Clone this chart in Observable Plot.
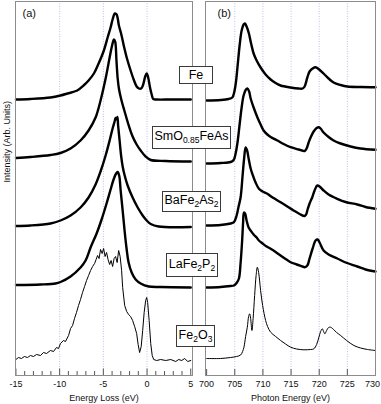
<!DOCTYPE html>
<html>
<head>
<meta charset="utf-8">
<script src="https://cdn.jsdelivr.net/npm/d3@7"></script>
<script src="https://cdn.jsdelivr.net/npm/@observablehq/plot@0.6"></script>
<style>
  html,body{margin:0;padding:0;background:#fff;}
  #chart{position:relative;width:381px;height:404px;overflow:hidden;font-family:"Liberation Sans",Arial,Helvetica,sans-serif;}
  #chart svg{position:absolute;top:0;}
  .lbl{position:absolute;box-sizing:border-box;border:1px solid #3a3a3a;background:#fff;color:#000;font-size:12.5px;line-height:1;display:flex;align-items:center;justify-content:center;white-space:nowrap;z-index:2;}
  .lbl span{display:block;margin-top:-2px;}
  .lbl sub{font-size:8.5px;vertical-align:baseline;position:relative;top:3px;line-height:0;}
</style>
</head>
<body>
<div id="chart"></div>
<script>
// ---------- data ----------
const names = ["Fe", "SmO0.85FeAs", "BaFe2As2", "LaFe2P2", "Fe2O3"];
// vertical offsets (arb. units) used to stack spectra
const lossOffsets = [27.6, 21.5, 14.9, 8.9, 1.6];
const photonOffsets = [27.5, 21.2, 15.0, 8.8, 1.7];

const lossTicks = [-15, -10, -5, 0, 5];
const lossGrid = [-10, -5, 0];
const photonTicks = [700, 705, 710, 715, 720, 725, 730];
const photonGrid = [705, 710, 715, 720, 725];

// (a) energy loss [eV, intensity]
const lossFe = [[-15,0],[-13.34,0.05],[-11.05,0.2],[-9.9,0.4],[-9.1,0.6],[-7.99,0.9],[-7.26,1.4],[-6.69,1.9],[-6.08,2.6],[-5.54,3.6],[-4.94,4.9],[-4.51,6.2],[-4.17,7.2],[-3.94,8.0],[-3.68,8.6],[-3.48,8.5],[-3.22,7.4],[-2.97,6.6],[-2.64,5.3],[-2.33,4.2],[-1.88,2.9],[-1.53,2.0],[-1.19,1.3],[-0.93,1.1],[-0.67,1.1],[-0.44,1.5],[-0.21,2.3],[-0.04,2.6],[0.13,2.2],[0.34,1.2],[0.53,0.5],[0.72,0.05],[1.1,0],[2.71,0],[5,0]];
const lossSmO = [[-15,0.25],[-13.34,0.35],[-11.05,0.55],[-9.9,0.75],[-8.75,1.2],[-7.61,2.0],[-6.69,3.0],[-5.89,4.3],[-5.32,6.0],[-4.74,8.2],[-4.28,10.3],[-4.0,11.5],[-3.79,12.1],[-3.65,11.9],[-3.5,10.0],[-3.36,8.2],[-3.2,7.1],[-2.95,6.1],[-2.6,5.0],[-2.2,3.8],[-1.7,2.5],[-1.19,1.6],[-0.73,1.0],[-0.16,0.4],[0.42,0.05],[2.13,-0.05],[5,-0.1]];
const lossBa = [[-15,0.05],[-13.34,0.1],[-11.05,0.3],[-9.9,0.6],[-8.75,1.1],[-7.61,1.9],[-6.69,2.9],[-5.89,4.2],[-5.32,5.5],[-4.74,7.1],[-4.28,8.6],[-3.94,9.8],[-3.71,10.5],[-3.6,10.85],[-3.48,10.7],[-3.39,10.95],[-3.31,10.1],[-3.14,8.6],[-2.97,7.1],[-2.79,6.0],[-2.56,5.1],[-2.22,4.1],[-1.65,2.9],[-1.07,1.9],[-0.5,1.1],[-0.04,0.6],[0.42,0.25],[1.33,0],[5,-0.05]];
const lossLa = [[-15,0.15],[-12.19,0.2],[-10.47,0.3],[-9.9,0.45],[-8.75,1.0],[-7.61,1.9],[-7.03,2.6],[-6.46,3.9],[-5.77,5.3],[-5.2,6.7],[-4.63,8.3],[-4.17,9.7],[-3.83,10.7],[-3.54,11.3],[-3.37,11.45],[-3.19,11.1],[-3.02,9.6],[-2.79,7.6],[-2.56,5.5],[-2.33,3.7],[-2.11,2.4],[-1.76,1.4],[-1.3,0.7],[-0.73,0.3],[0.19,0],[1.56,-0.05],[5,-0.1]];
const lossFe2O3 = [[-15,0],[-14.71,0.2],[-14.37,0.1],[-14.03,0.3],[-13.68,0.2],[-13.34,0.4],[-12.99,0.3],[-12.65,0.5],[-12.19,0.4],[-11.85,0.7],[-11.5,0.6],[-11.05,0.9],[-10.7,0.8],[-10.36,1.2],[-10.13,1.1],[-9.9,1.6],[-9.56,1.9],[-9.33,1.8],[-8.98,2.4],[-8.75,3.1],[-8.52,3.4],[-8.3,4.1],[-8.07,4.7],[-7.84,5.4],[-7.61,6.0],[-7.38,6.7],[-7.15,7.3],[-6.92,7.9],[-6.69,8.4],[-6.46,8.9],[-6.23,9.3],[-6.0,9.6],[-5.83,10.0],[-5.66,10.4],[-5.49,10.1],[-5.32,11.0],[-5.14,10.6],[-4.97,11.1],[-4.8,10.3],[-4.63,10.7],[-4.46,10.0],[-4.28,9.5],[-4.11,9.9],[-3.94,9.3],[-3.77,10.1],[-3.6,10.3],[-3.42,9.7],[-3.25,10.9],[-3.08,10.3],[-2.91,8.9],[-2.79,7.2],[-2.56,5.4],[-2.33,4.8],[-2.11,4.5],[-1.88,4.3],[-1.65,3.9],[-1.42,3.3],[-1.19,2.6],[-1.02,1.5],[-0.85,0.7],[-0.67,1.3],[-0.5,2.9],[-0.33,4.7],[-0.16,5.9],[-0.04,6.2],[0.07,5.7],[0.24,3.9],[0.42,1.6],[0.59,0.4],[0.76,0],[1.1,-0.1],[1.56,0],[2.13,-0.1],[2.71,0],[3.28,-0.2],[3.62,0],[3.97,-0.1],[4.31,0.1],[4.65,-0.2],[5,-0.1]];

// (b) photon energy [eV, intensity]
const photonFe = [[700,0],[702.49,0.05],[703.91,0.15],[704.56,0.3],[704.8,0.6],[705.15,1.6],[705.51,3.5],[705.86,5.5],[706.22,7.0],[706.57,7.6],[706.8,7.7],[707.1,7.4],[707.51,6.7],[707.9,5.7],[708.35,4.7],[708.88,4.0],[709.59,3.3],[710.48,2.6],[711.37,2.1],[712.26,1.75],[713.14,1.5],[714.92,1.3],[716.34,1.2],[717.05,1.2],[717.41,1.4],[717.89,2.3],[718.29,2.9],[718.83,3.2],[719.36,3.33],[719.89,3.15],[720.78,2.7],[721.67,2.2],[722.56,1.8],[723.8,1.55],[724.99,1.4],[727.35,1.35],[730,1.33]];
const photonSmO = [[700,0],[702.49,0.05],[704.26,0.15],[704.8,0.35],[705.15,1.0],[705.51,2.2],[705.86,3.9],[706.22,5.6],[706.57,6.8],[706.93,7.35],[707.23,7.5],[707.55,7.2],[707.82,6.5],[708.35,5.6],[709.01,4.63],[709.59,3.9],[710.12,3.3],[710.78,2.9],[711.37,2.65],[712.56,2.3],[713.68,1.95],[714.92,1.63],[716.34,1.4],[717.41,1.25],[717.76,1.5],[718.12,2.1],[718.47,2.6],[719.01,3.2],[719.54,3.55],[719.95,3.63],[720.25,3.5],[720.78,3.1],[721.67,2.65],[722.56,2.3],[723.8,2.0],[725.58,1.7],[727.35,1.5],[730,1.37]];
const photonBa = [[700,0],[702.49,0.05],[704.26,0.2],[704.85,0.33],[705.33,1.0],[705.68,1.9],[706.04,2.83],[706.39,5.0],[706.66,6.7],[706.93,7.8],[707.19,7.5],[707.46,6.7],[707.82,5.7],[708.12,5.17],[708.7,4.3],[709.29,3.67],[709.95,3.4],[710.78,3.17],[711.72,2.8],[713.14,2.33],[714.21,1.95],[715.45,1.5],[716.52,1.15],[717.41,0.95],[717.67,1.1],[717.94,1.6],[718.29,2.2],[718.77,2.83],[719.18,3.5],[719.66,4.0],[720.07,3.9],[720.78,3.5],[721.67,3.1],[723.21,2.67],[724.69,2.35],[726.77,2.1],[728.24,1.85],[730,1.67]];
const photonLa = [[700,0],[702.49,0.05],[704.26,0.15],[704.85,0.2],[705.33,0.45],[705.74,0.9],[706.04,2.5],[706.31,4.7],[706.48,6.5],[706.63,7.5],[706.84,7.4],[707.1,6.7],[707.46,6.0],[707.82,5.7],[708.35,5.3],[708.88,5.0],[709.29,4.7],[709.95,4.4],[710.66,4.1],[711.37,3.87],[712.26,3.55],[713.14,3.2],[714.03,2.85],[714.92,2.53],[715.99,2.3],[717.05,2.1],[717.41,2.03],[717.89,2.2],[718.29,2.9],[718.83,3.9],[719.36,4.7],[719.72,4.8],[720.07,4.5],[720.78,3.7],[721.67,3.3],[723.21,2.9],[724.69,2.5],[726.77,2.1],[728.24,1.8],[730,1.6]];
const photonFe2O3 = [[700,0],[702.49,0],[704.26,0.1],[705.33,0.2],[706.04,0.35],[706.39,0.7],[706.63,1.13],[706.93,2.2],[707.23,3.13],[707.46,4.2],[707.64,4.47],[707.82,4.0],[708.05,2.8],[708.26,4.0],[708.53,6.3],[708.79,8.3],[709.01,9.13],[709.24,8.6],[709.59,6.8],[709.95,5.3],[710.48,3.8],[710.83,3.2],[711.37,2.63],[712.26,2.2],[713.14,1.8],[714.03,1.45],[714.92,1.13],[715.99,0.95],[717.28,0.87],[718.47,0.9],[719.06,0.97],[719.54,1.4],[719.95,2.13],[720.25,2.7],[720.55,2.97],[720.78,2.7],[721.01,2.47],[721.31,2.8],[721.67,3.1],[722.02,3.13],[722.56,2.9],[723.09,2.6],[723.8,2.3],[724.87,1.8],[726.16,1.3],[727.35,1.05],[728.6,0.9],[730,0.8]];

// ---------- build ----------
function stack(arrays, offsets) {
  return arrays.flatMap((arr, k) => arr.map(([x, v]) => ({name: names[k], k, x, y: v + offsets[k]})));
}
const lossData = stack([lossFe, lossSmO, lossBa, lossLa, lossFe2O3], lossOffsets);
const photonData = stack([photonFe, photonSmO, photonBa, photonLa, photonFe2O3], photonOffsets);

const font = '"Liberation Sans", Arial, Helvetica, sans-serif';
const common = {
  height: 404, marginTop: 1, marginBottom: 29,
  y: {domain: [0, 37.4], axis: null},
  style: {fontFamily: font, background: "transparent", color: "#111"}
};

const left = Plot.plot({
  ...common, width: 200, marginLeft: 15, marginRight: 8,
  x: {domain: [-15.05, 5.2], axis: null},
  marks: [
    Plot.ruleX(lossGrid, {stroke: "#c0c0e8", strokeDasharray: "1,1.5"}),
    Plot.ruleX(d3.range(-15, 6), {y1: 0, y2: d => d % 5 === 0 ? 0.65 : 0.4, stroke: "#555"}),
    Plot.axisX(lossTicks, {anchor: "bottom", tickSize: 0, tickPadding: 5, fontSize: 9, tickFormat: d => String(d), label: null}),
    Plot.line(lossData.filter(d => d.k < 4), {x: "x", y: "y", z: "name", stroke: "#000", strokeWidth: 2.4, curve: "catmull-rom"}),
    Plot.line(lossData.filter(d => d.k === 4), {x: "x", y: "y", stroke: "#000", strokeWidth: 1}),
    Plot.frame({stroke: "#8c8c8c"}),
    Plot.text(["(a)"], {frameAnchor: "top-left", dx: 7, dy: 8, fontSize: 11, textAnchor: "start", lineAnchor: "top"}),
    Plot.text(["Energy Loss (eV)"], {frameAnchor: "bottom", dy: 23, lineAnchor: "middle", fontSize: 9}),
    Plot.text(["Intensity (Arb. Units)"], {frameAnchor: "left", dx: -8, dy: -6, rotate: -90, fontSize: 9})
  ]
});

const right = Plot.plot({
  ...common, width: 191, marginLeft: 15, marginRight: 6,
  x: {domain: [699.8, 730], axis: null},
  marks: [
    Plot.ruleX(photonGrid, {stroke: "#c0c0e8", strokeDasharray: "1,1.5"}),
    Plot.ruleX(photonTicks, {y1: 0, y2: 0.6, stroke: "#555"}),
    Plot.axisX(photonTicks.slice(0, -1), {anchor: "bottom", tickSize: 0, tickPadding: 5, fontSize: 9, tickFormat: d => String(d), label: null}),
    Plot.axisX(photonTicks.slice(-1), {anchor: "bottom", tickSize: 0, tickPadding: 5, fontSize: 9, dx: -3, tickFormat: d => String(d), label: null}),
    Plot.line(photonData.filter(d => d.k < 4), {x: "x", y: "y", z: "name", stroke: "#000", strokeWidth: 2.4, curve: "catmull-rom"}),
    Plot.line(photonData.filter(d => d.k === 4), {x: "x", y: "y", stroke: "#000", strokeWidth: 1, curve: "catmull-rom"}),
    Plot.frame({stroke: "#8c8c8c"}),
    Plot.text(["(b)"], {frameAnchor: "top-left", dx: 12, dy: 8, fontSize: 11, textAnchor: "start", lineAnchor: "top"}),
    Plot.text(["Photon Energy (eV)"], {frameAnchor: "bottom", dy: 23, lineAnchor: "middle", fontSize: 9})
  ]
});

const chart = document.getElementById("chart");
left.style.left = "0px";
right.style.left = "190px";
chart.appendChild(left);
chart.appendChild(right);

// sample name boxes between panels
const boxes = [
  {left: 179, top: 66, w: 34, h: 18},
  {left: 152, top: 126, w: 79, h: 23},
  {left: 162, top: 191, w: 59, h: 21},
  {left: 166, top: 253, w: 52, h: 24},
  {left: 176, top: 325, w: 39, h: 22}
];
names.forEach((n, i) => {
  const b = boxes[i];
  const div = document.createElement("div");
  div.className = "lbl";
  div.style.left = b.left + "px";
  div.style.top = b.top + "px";
  div.style.width = b.w + "px";
  div.style.height = b.h + "px";
  const span = document.createElement("span");
  span.innerHTML = n.replace(/(\d+(?:\.\d+)?)/g, "<sub>$1</sub>");
  if (!/\d/.test(n)) span.style.marginTop = "0px";
  div.appendChild(span);
  chart.appendChild(div);
});
</script>
</body>
</html>
